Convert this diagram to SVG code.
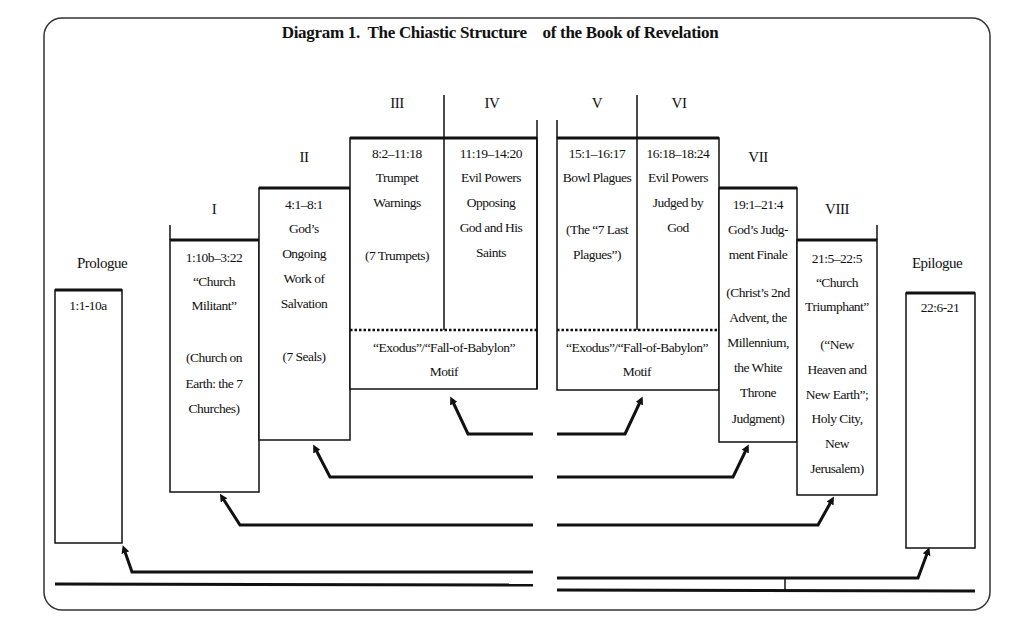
<svg xmlns="http://www.w3.org/2000/svg" width="1024" height="630" viewBox="0 0 1024 630">
<style>
text{font-family:"Liberation Serif","Times New Roman",serif;font-size:13.5px;letter-spacing:-0.5px;fill:#111;text-anchor:middle}
.t{font-size:17px;font-weight:bold;letter-spacing:-0.3px}
.h{font-size:15px}
.b{fill:#fff;stroke:#111;stroke-width:1.5}
.top{stroke:#111;stroke-width:3}
.ln{fill:none;stroke:#111;stroke-width:1.5}
.c{fill:none;stroke:#111;stroke-width:3;marker-end:url(#ah)}
.p{fill:none;stroke:#111;stroke-width:3}
</style>
<defs><marker id="ah" markerWidth="8" markerHeight="8" refX="4" refY="4" orient="auto" markerUnits="userSpaceOnUse"><path d="M0,0 L8,4 L0,8 z" fill="#111"/></marker></defs>
<rect x="0" y="0" width="1024" height="630" fill="#fff"/>
<rect x="44" y="18" width="946" height="592" rx="18" fill="none" stroke="#333" stroke-width="1.5"/>
<text class="t" x="500" y="38" xml:space="preserve">Diagram 1.  The Chiastic Structure    of the Book of Revelation</text>
<g id="prologue"><rect class="b" x="55" y="290" width="67" height="253"/><line class="top" x1="55" y1="290" x2="122" y2="290"/>
<text class="h" x="102" y="268">Prologue</text><text x="88" y="310">1:1-10a</text></g>
<g id="n1"><rect class="b" x="170" y="240" width="89" height="252"/><line class="top" x1="170" y1="240" x2="259" y2="240"/><line class="ln" x1="170" y1="225" x2="170" y2="240"/>
<text class="h" x="214" y="214">I</text>
<text x="214" y="262">1:10b–3:22</text><text x="214" y="286">“Church</text><text x="214" y="310">Militant”</text>
<text x="214" y="362">(Church on</text><text x="214" y="388">Earth: the 7</text><text x="214" y="413">Churches)</text></g>
<g id="n2"><rect class="b" x="259" y="188" width="91" height="252"/><line class="top" x1="259" y1="188" x2="350" y2="188"/>
<text class="h" x="304" y="162">II</text>
<text x="304" y="209">4:1–8:1</text><text x="304" y="233">God’s</text><text x="304" y="258">Ongoing</text><text x="304" y="283">Work of</text><text x="304" y="308">Salvation</text><text x="304" y="361">(7 Seals)</text></g>
<g id="n34"><rect class="b" x="350" y="138" width="187" height="251"/><line class="top" x1="350" y1="138" x2="537" y2="138"/>
<line class="ln" x1="537" y1="120" x2="537" y2="389"/><line class="ln" x1="444" y1="95" x2="444" y2="330"/>
<line x1="350" y1="330" x2="537" y2="330" stroke="#111" stroke-width="2.5" stroke-dasharray="2.5,2"/>
<text class="h" x="397" y="108">III</text><text class="h" x="492" y="108">IV</text>
<text x="397" y="158">8:2–11:18</text><text x="397" y="182">Trumpet</text><text x="397" y="207">Warnings</text><text x="397" y="260">(7 Trumpets)</text>
<text x="491" y="158">11:19–14:20</text><text x="491" y="182">Evil Powers</text><text x="491" y="207">Opposing</text><text x="491" y="232">God and His</text><text x="491" y="257">Saints</text>
<text x="444" y="352">“Exodus”/“Fall-of-Babylon”</text><text x="444" y="376">Motif</text></g>
<g id="n56"><rect class="b" x="557" y="138" width="162" height="252"/><line class="top" x1="557" y1="138" x2="719" y2="138"/>
<line class="ln" x1="557" y1="120" x2="557" y2="138"/><line class="ln" x1="637" y1="95" x2="637" y2="330"/>
<line x1="557" y1="330" x2="719" y2="330" stroke="#111" stroke-width="2.5" stroke-dasharray="2.5,2"/>
<text class="h" x="597" y="108">V</text><text class="h" x="679" y="108">VI</text>
<text x="597" y="158">15:1–16:17</text><text x="597" y="182">Bowl Plagues</text><text x="597" y="234">(The “7 Last</text><text x="597" y="259">Plagues”)</text>
<text x="678" y="158">16:18–18:24</text><text x="678" y="182">Evil Powers</text><text x="678" y="207">Judged by</text><text x="678" y="232">God</text>
<text x="637" y="352">“Exodus”/“Fall-of-Babylon”</text><text x="637" y="376">Motif</text></g>
<g id="n7"><rect class="b" x="719" y="188" width="78" height="254"/><line class="top" x1="719" y1="188" x2="797" y2="188"/>
<text class="h" x="758" y="162">VII</text>
<text x="758" y="209">19:1–21:4</text><text x="758" y="234">God’s Judg-</text><text x="758" y="259">ment Finale</text>
<text x="758" y="297">(Christ’s 2nd</text><text x="758" y="322">Advent, the</text><text x="758" y="347">Millennium,</text><text x="758" y="372">the White</text><text x="758" y="397">Throne</text><text x="758" y="423">Judgment)</text></g>
<g id="n8"><rect class="b" x="797" y="240" width="80" height="255"/><line class="top" x1="797" y1="240" x2="877" y2="240"/><line class="ln" x1="877" y1="225" x2="877" y2="240"/>
<text class="h" x="837" y="214">VIII</text>
<text x="837" y="263">21:5–22:5</text><text x="837" y="287">“Church</text><text x="837" y="311">Triumphant”</text>
<text x="837" y="349">(“New</text><text x="837" y="374">Heaven and</text><text x="837" y="399">New Earth”;</text><text x="837" y="423">Holy City,</text><text x="837" y="448">New</text><text x="837" y="473">Jerusalem)</text></g>
<g id="epilogue"><rect class="b" x="906" y="293" width="69" height="255"/><line class="top" x1="906" y1="293" x2="975" y2="293"/>
<text class="h" x="937" y="268">Epilogue</text><text x="940" y="312">22:6-21</text></g>
<g id="connectors">
<path class="c" d="M533,434 L468,434 L452,400"/>
<path class="c" d="M557,434 L625,434 L641,400"/>
<path class="c" d="M533,477 L330,477 L315,448"/>
<path class="c" d="M557,477 L733,477 L747,448"/>
<path class="c" d="M533,525 L240,525 L222,497"/>
<path class="c" d="M557,525 L818,525 L832,500"/>
<path class="c" d="M533,572 L132,572 L124,549"/>
<path class="c" d="M557,578 L918,578 L928,551"/>
<path class="p" d="M55,584 L533,585"/>
<path class="p" d="M557,590 L975,591"/>
<line class="ln" x1="785" y1="578" x2="785" y2="590"/>
</g>
</svg>
